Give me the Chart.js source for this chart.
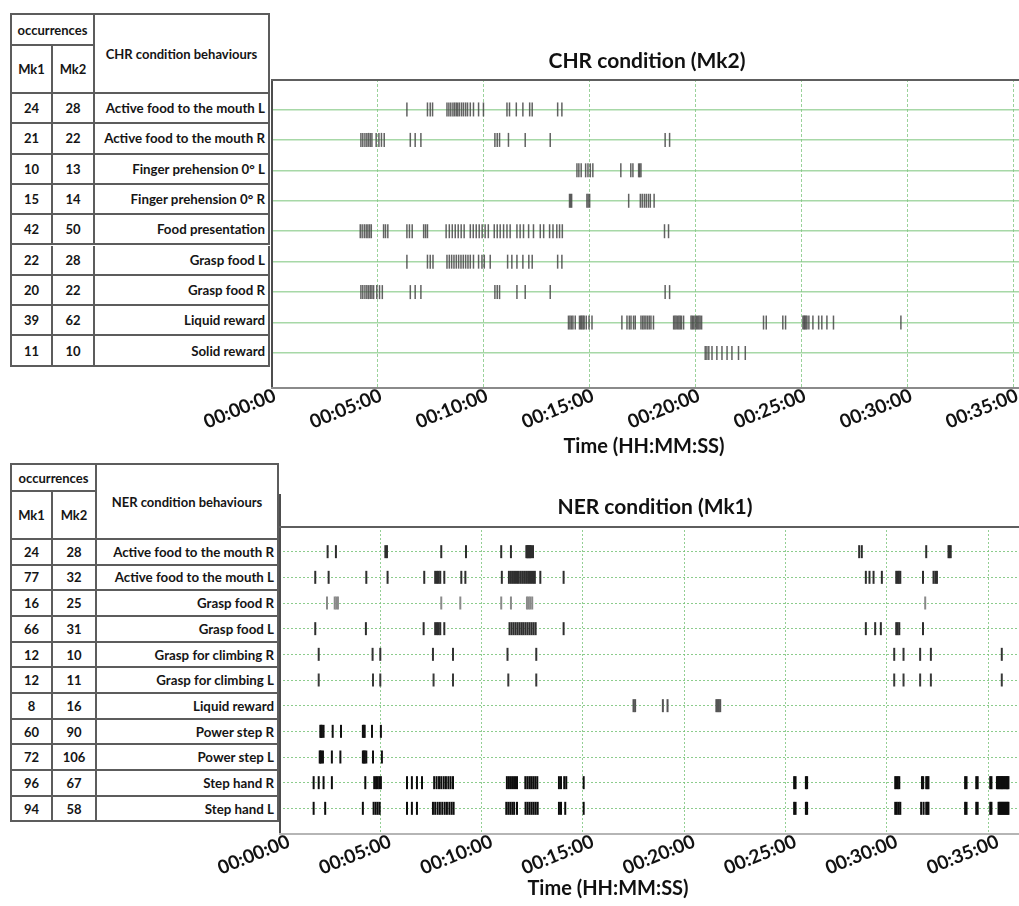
<!DOCTYPE html>
<html>
<head>
<meta charset="utf-8">
<script src="https://cdn.jsdelivr.net/npm/chart.js@4.4.1/dist/chart.umd.min.js"></script>
<style>
  html, body { margin: 0; padding: 0; background: #fff; }
  body { width: 1019px; height: 906px; position: relative; overflow: hidden; font-family: Lato, "Open Sans", sans-serif; }
  canvas { position: absolute; left: 0; display: block; }
  #chr { top: 0; }
  #ner { top: 470px; }
  .tbl { position: absolute; border-top: 2px solid #5c5c5c; border-left: 2px solid #5c5c5c; background: #fff; z-index: 2; }
  .cell { position: absolute; box-sizing: border-box; border-right: 2px solid #5c5c5c; border-bottom: 2px solid #5c5c5c;
          display: flex; align-items: center; font-weight: 700; color: #151515; font-size: 13px; white-space: nowrap; overflow: hidden; }
  .cell.c { justify-content: center; }
  .cell.r { justify-content: flex-end; padding-right: 3px; font-size: 13.3px; }
  .cell.small { font-size: 13px; }
</style>
</head>
<body>
<canvas id="chr" width="1019" height="470"></canvas>
<canvas id="ner" width="1019" height="436"></canvas>
<script>
// ---------- shared time axis ----------
const timeTickLabels = ['00:00:00', '00:05:00', '00:10:00', '00:15:00', '00:20:00', '00:25:00', '00:30:00', '00:35:00'];
const tickStepMinutes = 5;

// ---------- CHR condition (Mk2): behaviours and occurrence counts ----------
const chrBehaviours = ['Active food to the mouth L', 'Active food to the mouth R', 'Finger prehension 0° L', 'Finger prehension 0° R',
  'Food presentation', 'Grasp food L', 'Grasp food R', 'Liquid reward', 'Solid reward'];
const chrMk1 = [24, 21, 10, 15, 42, 22, 20, 39, 11];
const chrMk2 = [28, 22, 13, 14, 50, 28, 22, 62, 10];

// event onsets, minutes from session start
const chrActiveFoodMouthL = [6.41, 7.38, 7.51, 7.62, 8.30, 8.39, 8.48, 8.58, 8.66, 8.74, 8.81, 8.89, 8.99, 9.08, 9.18, 9.27, 9.40, 9.55, 9.79, 10.02,
  11.13, 11.25, 11.57, 11.88, 12.20, 12.32, 13.52, 13.72];
const chrActiveFoodMouthR = [4.24, 4.33, 4.43, 4.52, 4.60, 4.68, 4.76, 4.96, 5.09, 5.21, 5.34, 6.57, 6.80, 7.07, 10.56, 10.67, 10.78, 11.20, 11.99, 13.17,
  18.59, 18.80];
const chrFingerPrehensionL = [14.43, 14.52, 14.63, 14.84, 14.95, 15.06, 15.18, 16.50, 16.97, 17.07, 17.34, 17.39, 17.45];
const chrFingerPrehensionR = [14.08, 14.13, 14.18, 14.90, 14.96, 15.03, 16.87, 17.42, 17.51, 17.61, 17.70, 17.80, 17.89, 18.07];
const chrFoodPresentation = [4.21, 4.30, 4.40, 4.49, 4.57, 4.65, 4.73, 5.31, 5.40, 5.51, 6.41, 6.53, 6.66, 7.20, 7.29, 7.38,
  8.26, 8.55, 8.69, 8.83, 8.97, 9.11, 9.40, 9.54, 9.68, 9.82, 9.96, 10.10, 10.25, 10.53, 10.67, 10.81, 10.97, 11.13, 11.28, 11.60, 11.75, 11.91, 12.15, 12.38,
  12.70, 12.86, 13.14, 13.30, 13.48, 13.61, 13.74, 18.56, 18.75, 8.41];
const chrGraspFoodL = [6.41, 7.38, 7.51, 7.64, 8.30, 8.41, 8.52, 8.63, 8.74, 8.85, 8.96, 9.07, 9.18, 9.29, 9.40, 9.55, 9.79, 9.95, 10.06, 10.34,
  11.16, 11.36, 11.60, 11.88, 12.16, 12.32, 13.52, 13.72];
const chrGraspFoodR = [4.24, 4.33, 4.43, 4.52, 4.60, 4.68, 4.76, 4.84, 4.99, 5.12, 5.25, 6.57, 6.80, 7.07, 10.56, 10.67, 10.78, 11.60, 11.99, 13.17,
  18.59, 18.80];
const chrLiquidReward = [14.03, 14.10, 14.17, 14.24, 14.35, 14.55, 14.61, 14.66, 14.72, 14.77, 14.87, 15.00, 15.14, 16.55, 16.79, 16.90, 16.98, 17.10, 17.18,
  17.45, 17.53, 17.60, 17.68, 17.76, 17.84, 17.92, 18.04, 18.99, 19.05, 19.11, 19.18, 19.24, 19.30, 19.36, 19.46,
  19.81, 19.87, 19.93, 20.00, 20.06, 20.12, 20.18, 20.24, 20.31, 23.23, 23.36, 24.14, 24.27,
  25.09, 25.14, 25.18, 25.23, 25.28, 25.37, 25.56, 25.83, 25.98, 26.22, 26.53, 29.71];
const chrSolidReward = [20.48, 20.56, 20.65, 20.80, 21.03, 21.27, 21.51, 21.74, 22.05, 22.37];

// ---------- NER condition (Mk1): behaviours and occurrence counts ----------
const nerBehaviours = ['Active food to the mouth R', 'Active food to the mouth L', 'Grasp food R', 'Grasp food L', 'Grasp for climbing R',
  'Grasp for climbing L', 'Liquid reward', 'Power step R', 'Power step L', 'Step hand R', 'Step hand L'];
const nerMk1 = [24, 77, 16, 66, 12, 12, 8, 60, 72, 96, 94];
const nerMk2 = [28, 32, 25, 31, 10, 11, 16, 90, 106, 67, 58];

const nerActiveFoodMouthR = [2.40, 2.81, 5.25, 5.33, 8.01, 9.23, 10.97, 11.45, 12.21, 12.25, 12.29, 12.33, 12.37, 12.41, 12.45, 12.54,
  28.64, 28.77, 31.95, 33.05, 33.10, 33.16];
const nerActiveFoodMouthL = [1.79, 2.45, 4.31, 5.36, 7.17, 7.71, 7.80, 7.88, 7.96, 8.16, 9.00, 9.20, 11.00, 11.35, 11.45, 11.55, 11.65, 11.75, 11.84,
  11.94, 12.04, 12.14, 12.24, 12.34, 12.44, 12.54, 12.63, 12.90, 14.05, 28.97, 29.15, 29.35, 29.76, 30.47, 30.54, 30.60, 30.67, 31.79, 32.31, 32.40, 32.48];
const nerGraspFoodR = [2.37, 2.75, 2.83, 2.91, 8.01, 8.95, 10.97, 11.45, 12.24, 12.32, 12.40, 12.50, 31.90];
const nerGraspFoodL = [1.79, 4.29, 7.14, 7.71, 7.80, 7.88, 7.96, 8.16, 11.38, 11.48, 11.58, 11.68, 11.78, 11.88, 11.98, 12.07, 12.17, 12.27, 12.37,
  12.47, 12.57, 12.67, 14.05, 28.97, 29.43, 29.71, 30.47, 30.54, 30.62, 31.79];
const nerGraspClimbingR = [1.96, 4.62, 5.00, 7.60, 8.59, 11.28, 12.70, 30.37, 30.83, 31.65, 32.18, 35.68];
const nerGraspClimbingL = [1.96, 4.64, 5.00, 7.63, 8.59, 11.32, 12.70, 30.37, 30.83, 31.65, 32.18, 35.68];
const nerLiquidReward = [17.50, 17.58, 18.95, 19.18, 21.59, 21.65, 21.71, 21.78];
const nerPowerStepR = [2.04, 2.08, 2.12, 2.20, 2.65, 3.06, 4.14, 4.19, 4.23, 4.59, 5.03];
const nerPowerStepL = [2.01, 2.05, 2.09, 2.17, 2.61, 3.03, 4.14, 4.19, 4.24, 4.31, 4.64, 5.08];
const nerStepHandR = [1.71, 1.96, 2.20, 2.61, 4.26, 4.70, 4.79, 4.87, 4.95, 5.03, 6.32, 6.56, 6.81, 7.06, 7.66, 7.78, 7.90, 8.01, 8.13, 8.24, 8.36,
  8.47, 8.59, 11.25, 11.35, 11.45, 11.55, 11.65, 11.75, 12.16, 12.26, 12.36, 12.45, 12.55, 12.65, 12.75, 13.82, 13.92, 14.08, 14.18, 15.04,
  25.43, 25.50, 26.01, 26.07, 30.42, 30.48, 30.55, 30.62, 31.74, 31.80, 31.95, 32.01, 32.06, 33.87, 33.94, 34.42, 34.49, 35.11, 35.17,
  35.44, 35.49, 35.54, 35.59, 35.64, 35.69, 35.73, 35.78, 35.83, 35.88, 35.93, 35.97, 36.01];
const nerStepHandL = [1.71, 2.28, 4.14, 4.67, 4.77, 4.87, 4.97, 6.32, 6.56, 6.81, 7.60, 7.71, 7.83, 7.94, 8.06, 8.18, 8.29, 8.41, 8.52, 8.62,
  11.22, 11.32, 11.42, 11.52, 11.61, 11.75, 12.17, 12.27, 12.37, 12.47, 12.57, 12.67, 12.77, 13.82, 13.92, 14.13, 15.04,
  25.43, 25.50, 26.01, 26.07, 30.42, 30.50, 30.59, 30.67, 31.70, 31.82, 31.95, 32.01, 32.06, 33.87, 33.94, 34.42, 34.49, 35.11, 35.17,
  35.52, 35.57, 35.62, 35.67, 35.72, 35.77, 35.82, 35.87, 35.92, 35.97, 36.01];

const chrEvents = [chrActiveFoodMouthL, chrActiveFoodMouthR, chrFingerPrehensionL, chrFingerPrehensionR, chrFoodPresentation,
  chrGraspFoodL, chrGraspFoodR, chrLiquidReward, chrSolidReward];
const nerEvents = [nerActiveFoodMouthR, nerActiveFoodMouthL, nerGraspFoodR, nerGraspFoodL, nerGraspClimbingR, nerGraspClimbingL,
  nerLiquidReward, nerPowerStepR, nerPowerStepL, nerStepHandR, nerStepHandL];

// ---------- occurrence tables ----------
function buildTable(spec) {
  const { x, y, cols, occH, headH, rowH, heading, names, mk1, mk2 } = spec;
  const box = document.createElement('div');
  box.className = 'tbl';
  Object.assign(box.style, {
    left: x + 'px', top: y + 'px',
    width: cols[0] + cols[1] + cols[2] + 'px',
    height: occH + headH + rowH * names.length + 'px'
  });
  const cell = (left, top, w, h, text, cls) => {
    const d = document.createElement('div');
    d.className = 'cell ' + cls;
    Object.assign(d.style, { left: left + 'px', top: top + 'px', width: w + 'px', height: h + 'px' });
    d.textContent = text;
    box.appendChild(d);
  };
  cell(0, 0, cols[0] + cols[1], occH, 'occurrences', 'c small');
  cell(0, occH, cols[0], headH, 'Mk1', 'c');
  cell(cols[0], occH, cols[1], headH, 'Mk2', 'c');
  cell(cols[0] + cols[1], 0, cols[2], occH + headH, heading, 'c small');
  names.forEach((name, i) => {
    const top = occH + headH + i * rowH;
    cell(0, top, cols[0], rowH, String(mk1[i]), 'c');
    cell(cols[0], top, cols[1], rowH, String(mk2[i]), 'c');
    cell(cols[0] + cols[1], top, cols[2], rowH, name, 'r');
  });
  document.body.appendChild(box);
}

buildTable({ x: 10, y: 13, cols: [41, 42, 175], occH: 31, headH: 48, rowH: 30.3,
  heading: 'CHR condition behaviours', names: chrBehaviours, mk1: chrMk1, mk2: chrMk2 });
buildTable({ x: 10, y: 463, cols: [41, 44, 182], occH: 27, headH: 48, rowH: 25.67,
  heading: 'NER condition behaviours', names: nerBehaviours, mk1: nerMk1, mk2: nerMk2 });

// ---------- panel frame, title and axis caption ----------
const panelText = {
  id: 'panelText',
  afterDraw(chart, args, o) {
    const { ctx, chartArea: a } = chart;
    ctx.save();
    ctx.lineCap = 'butt';
    // left frame line
    ctx.strokeStyle = '#4d4d4d';
    ctx.lineWidth = 2;
    ctx.beginPath();
    ctx.moveTo(a.left + 1, o.leftLineTop);
    ctx.lineTo(a.left + 1, a.bottom);
    ctx.stroke();
    // top frame line
    ctx.strokeStyle = '#5e5e5e';
    ctx.beginPath();
    ctx.moveTo(a.left, a.top + 1);
    ctx.lineTo(a.right, a.top + 1);
    ctx.stroke();
    // time axis line
    ctx.strokeStyle = o.axisLineColor;
    ctx.beginPath();
    ctx.moveTo(a.left, a.bottom);
    ctx.lineTo(a.right, a.bottom);
    ctx.stroke();

    ctx.fillStyle = '#111';
    ctx.textAlign = 'center';
    ctx.textBaseline = 'middle';
    ctx.font = 'bold 21px Lato';
    ctx.fillText(o.title, (a.left + a.right) / 2 + o.titleDx, a.top + o.titleDy);
    ctx.font = 'bold 20px Lato';
    ctx.fillText(o.axisTitle, o.axisTitleX, o.axisTitleY);
    ctx.restore();
  }
};

function rasterChart(canvasId, cfg) {
  return new Chart(document.getElementById(canvasId), {
    type: 'scatter',
    data: {
      datasets: cfg.events.map((times, i) => ({
        label: cfg.names[i],
        data: times.map(t => ({ x: t, y: i + 1 })),
        borderColor: cfg.colors[i],
        pointBorderColor: cfg.colors[i],
        backgroundColor: cfg.colors[i],
        pointBackgroundColor: cfg.colors[i]
      }))
    },
    options: {
      responsive: false,
      animation: false,
      events: [],
      layout: { autoPadding: false, padding: cfg.padding },
      elements: {
        point: { pointStyle: 'line', rotation: 90, radius: cfg.tickHalf, hoverRadius: cfg.tickHalf, borderWidth: cfg.tickWidth }
      },
      plugins: {
        legend: { display: false },
        tooltip: { enabled: false },
        panelText: cfg.text
      },
      scales: {
        x: {
          type: 'linear', position: 'bottom', min: 0, max: cfg.xMax,
          afterBuildTicks: s => { s.ticks = timeTickLabels.map((_, k) => ({ value: k * tickStepMinutes })); },
          afterFit: s => { s.height = cfg.xAxisHeight; s.paddingLeft = 0; s.paddingRight = 0; },
          ticks: {
            autoSkip: false, minRotation: 22, maxRotation: 22, padding: cfg.tickPad, labelOffset: cfg.labelOffset, color: '#121212',
            font: { family: 'Lato', weight: 'bold', size: 19 },
            callback: v => timeTickLabels[Math.round(v / tickStepMinutes)]
          },
          grid: { color: cfg.vGridColor, lineWidth: 1, drawTicks: false },
          border: { display: false, dash: cfg.vDash }
        },
        y: {
          type: 'linear', reverse: true, min: 0, max: cfg.yMax,
          afterBuildTicks: s => { s.ticks = cfg.names.map((_, i) => ({ value: i + 1 })); },
          afterFit: s => { s.width = 0; },
          ticks: { display: false },
          grid: { color: cfg.hGridColor, lineWidth: cfg.hGridWidth, drawTicks: false },
          border: { display: false, dash: cfg.hDash }
        }
      }
    },
    plugins: [panelText]
  });
}

rasterChart('chr', {
  events: chrEvents, names: chrBehaviours,
  colors: chrBehaviours.map(() => 'rgba(70,70,70,0.85)'),
  padding: { left: 271, right: 0, top: 79, bottom: 22 },
  xAxisHeight: 60, xMax: 35.28, yMax: 10.15, tickPad: -4, labelOffset: 4,
  tickHalf: 7, tickWidth: 1.5,
  vGridColor: 'rgba(120,195,120,0.75)', vDash: [3, 2],
  hGridColor: 'rgba(130,200,130,0.7)', hGridWidth: 1.6, hDash: [],
  text: { title: 'CHR condition (Mk2)', titleDx: 2, titleDy: -18, axisTitle: 'Time (HH:MM:SS)',
    axisTitleX: 644, axisTitleY: 447, leftLineTop: 79, axisLineColor: '#8a8a8a' }
});

rasterChart('ner', {
  events: nerEvents, names: nerBehaviours,
  colors: ['#2e2e2e', '#2e2e2e', '#8a8a8a', '#2e2e2e', '#333', '#3a3a3a', '#555', '#111', '#111', '#0d0d0d', '#0d0d0d'],
  padding: { left: 279, right: 0, top: 56, bottom: 12 },
  xAxisHeight: 60, xMax: 36.53, yMax: 12, tickPad: -4, labelOffset: 10,
  tickHalf: 6.5, tickWidth: 2,
  vGridColor: 'rgba(120,195,120,0.8)', vDash: [2, 2],
  hGridColor: 'rgba(120,195,120,0.85)', hGridWidth: 1, hDash: [2, 2],
  text: { title: 'NER condition (Mk1)', titleDx: 6, titleDy: -19, axisTitle: 'Time (HH:MM:SS)',
    axisTitleX: 608, axisTitleY: 419, leftLineTop: 24, axisLineColor: '#b5b5b5' }
});
</script>
</body>
</html>
